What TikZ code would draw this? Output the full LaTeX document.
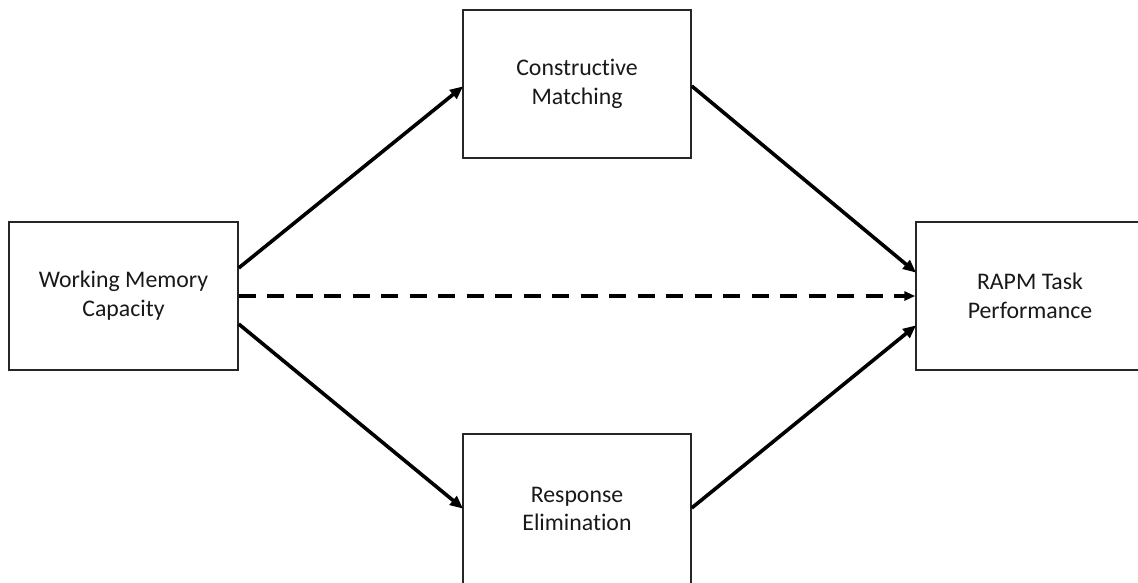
\documentclass[tikz,border=0pt]{standalone}
\usepackage{fontspec}
\setmainfont[Ligatures={NoCommon}]{Carlito}
\usetikzlibrary{arrows.meta}
\begin{document}
\begin{tikzpicture}[x=1pt,y=1pt,
  box/.style={draw=black!85, line width=1.4pt, minimum width=228pt, minimum height=148pt,
    align=center, inner sep=0pt, font=\fontsize{23.8}{28.8}\selectfont, text=black!90},
  conn/.style={line width=3.6pt, -{Triangle[length=13pt,width=11pt]}, shorten >=-1pt},
  dconn/.style={line width=3.3pt, dash pattern=on 17pt off 11.5pt, -{Triangle[length=11pt,width=9pt]}}]
\useasboundingbox (0,0) rectangle (1138,-582);
\clip (0,0) rectangle (1138,-582);
\fill[white] (0,0) rectangle (1138,-582);
\node[box, minimum width=229pt] (wm) at (123.5,-296) {Working Memory\\Capacity};
\node[box] (cm) at (577,-84) {Constructive\\Matching};
\node[box, minimum height=150pt] (re) at (577,-509) {Response\\Elimination};
\node[box] (rp) at (1030,-296) {RAPM Task\\Performance};
\draw[conn] ([yshift=28pt]wm.east) -- ([yshift=-3pt]cm.west);
\draw[conn] ([yshift=-28pt]wm.east) -- ([yshift=1pt]re.west);
\draw[conn] ([yshift=-2pt]cm.east) -- ([yshift=24pt]rp.west);
\draw[conn] ([yshift=1pt]re.east) -- ([yshift=-30pt]rp.west);
\draw[dconn] (wm.east) -- (rp.west);
\end{tikzpicture}
\end{document}
